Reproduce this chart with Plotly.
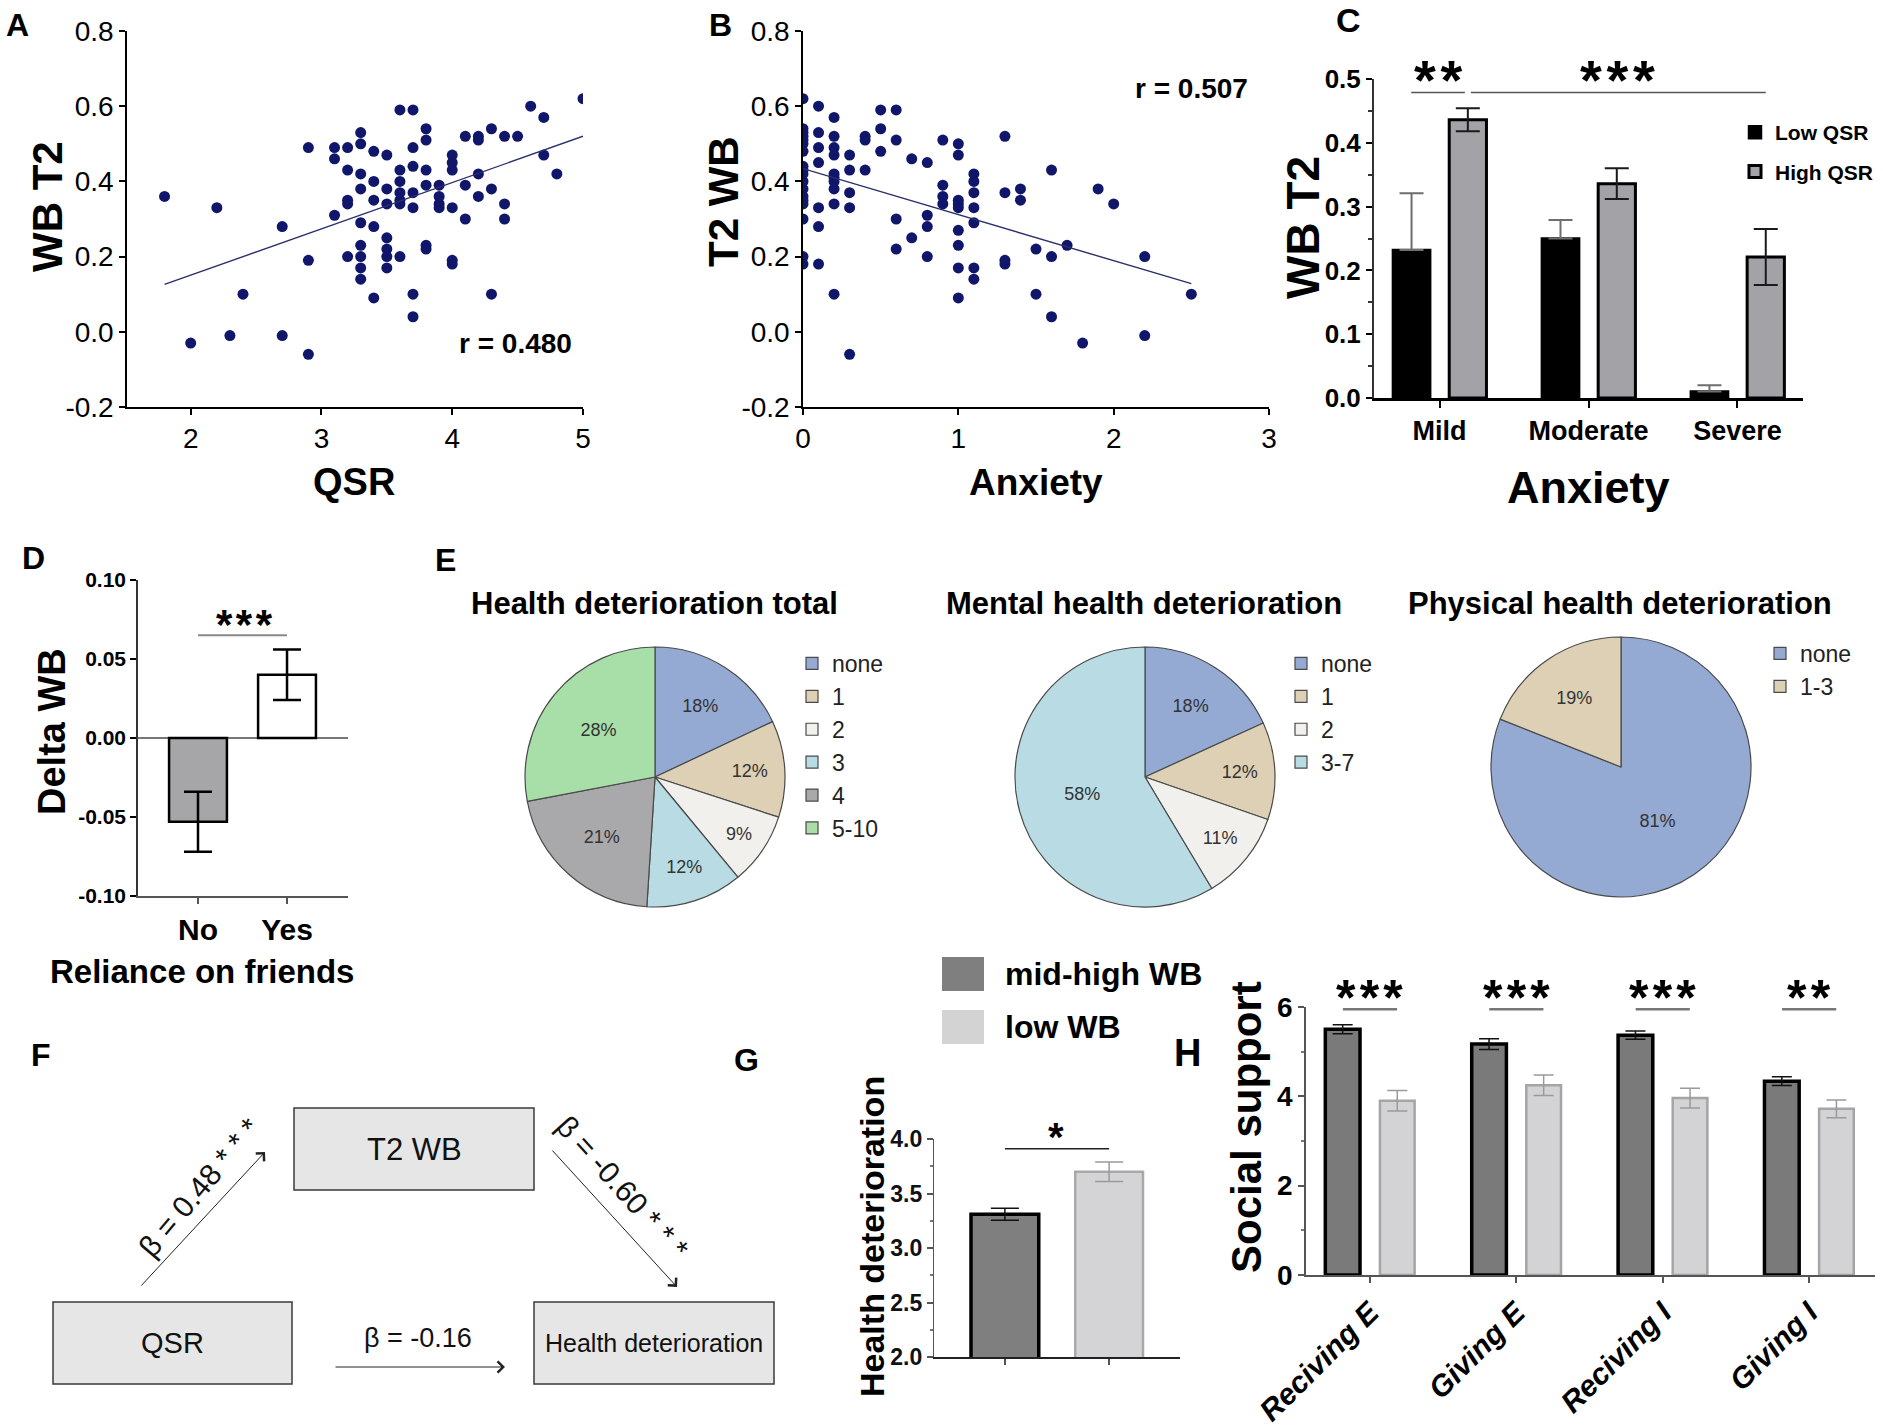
import plotly.graph_objects as go

W, H = 1883, 1427
FONT = "Liberation Sans, Arial, sans-serif"

# ---------------- data ----------------
# Panel A: QSR vs WB T2
A_x = [1.8, 2.2, 2.0, 2.3, 2.4, 2.7, 2.7, 2.9, 2.9, 2.9,
       3.1, 3.1, 3.1,
       3.2, 3.2, 3.2, 3.2, 3.2,
       3.3, 3.3, 3.3, 3.3, 3.3, 3.3, 3.3, 3.3, 3.3,
       3.4, 3.4, 3.4, 3.4, 3.4,
       3.5, 3.5, 3.5, 3.5, 3.5, 3.5, 3.5,
       3.6, 3.6, 3.6, 3.6, 3.6, 3.6, 3.6,
       3.7, 3.7, 3.7, 3.7, 3.7, 3.7, 3.7,
       3.8, 3.8, 3.8, 3.8, 3.8, 3.8,
       3.9, 3.9, 3.9, 3.9,
       4.0, 4.0, 4.0, 4.0, 4.0, 4.0,
       4.1, 4.1, 4.1,
       4.2, 4.2, 4.2, 4.2,
       4.3, 4.3, 4.3,
       4.4, 4.4, 4.4,
       4.5, 4.6, 4.7, 4.7, 4.8, 5.0]
A_y = [0.36, 0.33, -0.03, -0.01, 0.10, 0.28, -0.01, 0.49, 0.19, -0.06,
       0.49, 0.46, 0.31,
       0.49, 0.43, 0.35, 0.34, 0.20,
       0.53, 0.50, 0.42, 0.38, 0.29, 0.23, 0.20, 0.17, 0.14,
       0.48, 0.40, 0.35, 0.28, 0.09,
       0.47, 0.38, 0.34, 0.25, 0.22, 0.20, 0.17,
       0.59, 0.43, 0.40, 0.37, 0.35, 0.34, 0.20,
       0.59, 0.49, 0.44, 0.37, 0.33, 0.10, 0.04,
       0.54, 0.51, 0.43, 0.39, 0.23, 0.22,
       0.39, 0.36, 0.34, 0.33,
       0.47, 0.45, 0.43, 0.33, 0.19, 0.18,
       0.52, 0.39, 0.30,
       0.52, 0.51, 0.42, 0.36,
       0.54, 0.38, 0.10,
       0.52, 0.34, 0.30,
       0.52, 0.60, 0.57, 0.47, 0.42, 0.62]
A_fit_x = [1.8, 5.0]
A_fit_y = [0.126, 0.52]
A_r = "r = 0.480"

# Panel B: Anxiety vs T2 WB
B_x = [0.0] * 18 + [0.1] * 7 + [0.2] * 10 + [0.3] * 5 + [0.4] * 3 + [0.5] * 3 + [0.6] * 4 + [0.7] * 2 + \
      [0.8] * 4 + [0.9] * 4 + [1.0] * 9 + [1.1] * 7 + [1.3] * 4 + [1.4] * 2 + [1.5] * 2 + [1.6] * 3 + \
      [1.7, 1.8, 1.9, 2.0, 2.2, 2.2, 2.5]
B_y = [0.62, 0.54, 0.53, 0.52, 0.51, 0.50, 0.48, 0.44, 0.43, 0.42, 0.40, 0.38, 0.36, 0.35, 0.34, 0.30, 0.20, 0.18,
       0.60, 0.53, 0.49, 0.45, 0.33, 0.28, 0.18,
       0.57, 0.52, 0.49, 0.47, 0.42, 0.41, 0.40, 0.38, 0.34, 0.10,
       0.47, 0.43, 0.37, 0.33, -0.06,
       0.52, 0.51, 0.43,
       0.59, 0.54, 0.48,
       0.59, 0.51, 0.30, 0.22,
       0.46, 0.25,
       0.45, 0.31, 0.28, 0.20,
       0.51, 0.39, 0.36, 0.34,
       0.50, 0.47, 0.35, 0.34, 0.33, 0.27, 0.23, 0.17, 0.09,
       0.42, 0.40, 0.37, 0.33, 0.29, 0.17, 0.14,
       0.52, 0.37, 0.19, 0.18,
       0.38, 0.35,
       0.22, 0.10,
       0.43, 0.20, 0.04,
       0.23, -0.03, 0.38, 0.34, 0.20, -0.01, 0.10]
B_fit_x = [0.0, 2.5]
B_fit_y = [0.434, 0.128]
B_r = "r = 0.507"

AB_yticks = [-0.2, 0.0, 0.2, 0.4, 0.6, 0.8]
AB_yticktext = ["-0.2", "0.0", "0.2", "0.4", "0.6", "0.8"]

# Panel C
C_cats = ["Mild", "Moderate", "Severe"]
C_low = [0.232, 0.250, 0.010]
C_low_err = [0.089, 0.029, 0.010]
C_high = [0.436, 0.336, 0.221]
C_high_err = [0.018, 0.024, 0.044]

# Panel D
D_cats = ["No", "Yes"]
D_vals = [-0.053, 0.040]
D_err = [0.019, 0.016]
D_yticks = [-0.10, -0.05, 0.0, 0.05, 0.10]
D_yticktext = ["-0.10", "-0.05", "0.00", "0.05", "0.10"]

# Panel E (pies)
P1_labels = ["none", "1", "2", "3", "4", "5-10"]
P1_vals = [18, 12, 9, 12, 21, 28]
P2_labels = ["none", "1", "2", "3-7"]
P2_vals = [18, 12, 11, 58]
P3_labels = ["none", "1-3"]
P3_vals = [81, 19]
P_titles = ["Health deterioration total", "Mental health deterioration", "Physical health deterioration"]

# Panel G
G_groups = ["mid-high WB", "low WB"]
G_vals = [3.31, 3.70]
G_err = [0.055, 0.09]

# Panel H
H_cats = ["Reciving E", "Giving E", "Reciving I", "Giving I"]
H_mid = [5.50, 5.17, 5.37, 4.34]
H_mid_err = [0.10, 0.12, 0.09, 0.10]
H_low = [3.90, 4.25, 3.96, 3.72]
H_low_err = [0.23, 0.23, 0.22, 0.20]
H_stars = ["***", "***", "***", "**"]

# ---------------- geometry (pixels) ----------------
PAN = {
    "A": dict(xd=(127, 583), xr=(1.513, 5.0), yd=(407, 31), yr=(-0.2, 0.8)),
    "B": dict(xd=(803, 1269), xr=(0.0, 3.0), yd=(407, 31), yr=(-0.2, 0.8)),
    "C": dict(xd=(1374, 1803), xr=(-0.44, 2.44), yd=(398, 79), yr=(0.0, 0.5)),
    "D": dict(xd=(138, 348), xr=(-0.674, 1.685), yd=(896, 580), yr=(-0.1, 0.1)),
    "G": dict(xd=(934, 1180), xr=(-0.68, 1.68), yd=(1357, 1139), yr=(2.0, 4.0)),
    "H": dict(xd=(1306, 1875), xr=(-0.437, 3.45), yd=(1275, 1007), yr=(0.0, 6.0)),
}


def px(x):
    return x / W


def py(y):
    return 1 - y / H


def dom_x(p):
    return [px(PAN[p]["xd"][0]), px(PAN[p]["xd"][1])]


def dom_y(p):
    return [py(PAN[p]["yd"][0]), py(PAN[p]["yd"][1])]


def to_paper(p, xv, yv):
    d = PAN[p]
    fx = (xv - d["xr"][0]) / (d["xr"][1] - d["xr"][0])
    fy = (yv - d["yr"][0]) / (d["yr"][1] - d["yr"][0])
    xp = d["xd"][0] + fx * (d["xd"][1] - d["xd"][0])
    yp = d["yd"][0] + fy * (d["yd"][1] - d["yd"][0])
    return px(xp), py(yp)


fig = go.Figure()

# ---------------- A ----------------
fig.add_trace(go.Scatter(x=A_x, y=A_y, mode="markers", xaxis="x", yaxis="y",
                         marker=dict(color="#10176b", size=11), showlegend=False, hoverinfo="skip"))
fig.add_trace(go.Scatter(x=A_fit_x, y=A_fit_y, mode="lines", xaxis="x", yaxis="y",
                         line=dict(color="#2b2f6b", width=1.4), showlegend=False, hoverinfo="skip"))
# ---------------- B ----------------
fig.add_trace(go.Scatter(x=B_x, y=B_y, mode="markers", xaxis="x2", yaxis="y2",
                         marker=dict(color="#10176b", size=11), showlegend=False, hoverinfo="skip"))
fig.add_trace(go.Scatter(x=B_fit_x, y=B_fit_y, mode="lines", xaxis="x2", yaxis="y2",
                         line=dict(color="#2b2f6b", width=1.4), showlegend=False, hoverinfo="skip"))

# ---------------- C ----------------
fig.add_trace(go.Bar(x=[0, 1, 2], y=C_low, xaxis="x3", yaxis="y3", name="Low QSR",
                     width=0.25, offset=-0.313,
                     marker=dict(color="#000000", line=dict(color="#000000", width=2.5)),
                     error_y=dict(type="data", symmetric=False, array=C_low_err, arrayminus=[0, 0, 0],
                                  color="#6e6e6e", thickness=2, width=12),
                     legend="legend", legendgroup="c1", hoverinfo="skip"))
fig.add_trace(go.Bar(x=[0, 1, 2], y=C_high, xaxis="x3", yaxis="y3", name="High QSR",
                     width=0.25, offset=0.065,
                     marker=dict(color="#a3a3a7", line=dict(color="#000000", width=3)),
                     error_y=dict(type="data", array=C_high_err, color="#1a1a1a", thickness=2, width=12),
                     legend="legend", legendgroup="c2", hoverinfo="skip"))

# ---------------- D ----------------
fig.add_trace(go.Bar(x=[0, 1], y=D_vals, xaxis="x4", yaxis="y4", width=0.65,
                     marker=dict(color=["#a6a6a9", "#ffffff"], line=dict(color="#000000", width=2.5)),
                     error_y=dict(type="data", array=D_err, color="#000000", thickness=2.5, width=14),
                     showlegend=False, hoverinfo="skip"))

# ---------------- E pies ----------------
PIE_COL = {"none": "#95aad3", "1": "#ddd0b5", "2": "#f1f0ec", "3": "#b8dbe4", "3-7": "#b8dbe4",
           "4": "#a9a9ab", "5-10": "#a8dfa9", "1-3": "#ddd0b5"}
pies = [
    (P1_labels, P1_vals, (655, 777), "legend2", ""),
    (P2_labels, P2_vals, (1145, 777), "legend3", "\u200b"),
    (P3_labels, P3_vals, (1621, 767), "legend4", "\u200b\u200b"),
]
R = 130
for labels, vals, (cx, cy), lg, tag in pies:
    fig.add_trace(go.Pie(
        labels=[l + tag for l in labels], values=vals, sort=False, direction="clockwise", rotation=0,
        domain=dict(x=[px(cx - R), px(cx + R)], y=[py(cy + R), py(cy - R)]),
        marker=dict(colors=[PIE_COL[l] for l in labels], line=dict(color="#4a4a4a", width=1.2)),
        text=[f"{v}%" for v in vals], textinfo="text", textposition="inside",
        insidetextorientation="horizontal",
        textfont=dict(size=18, color="#333333", family=FONT),
        legend=lg, showlegend=True, hoverinfo="skip"))

# ---------------- G ----------------
fig.add_trace(go.Bar(x=[0], y=[G_vals[0]], xaxis="x5", yaxis="y5", width=0.65,
                     marker=dict(color="#7f7f7f", line=dict(color="#000000", width=3.5)),
                     error_y=dict(type="data", array=[G_err[0]], color="#111111", thickness=1.5, width=14),
                     showlegend=False, hoverinfo="skip"))
fig.add_trace(go.Bar(x=[1], y=[G_vals[1]], xaxis="x5", yaxis="y5", width=0.65,
                     marker=dict(color="#d4d4d6", line=dict(color="#a9a9a9", width=2.5)),
                     error_y=dict(type="data", array=[G_err[1]], color="#9a9a9a", thickness=1.5, width=14),
                     showlegend=False, hoverinfo="skip"))

# ---------------- H ----------------
fig.add_trace(go.Bar(x=[0, 1, 2, 3], y=H_mid, xaxis="x6", yaxis="y6", width=0.237, offset=-0.305,
                     marker=dict(color="#7a7a7a", line=dict(color="#000000", width=3.5)),
                     error_y=dict(type="data", array=H_mid_err, color="#111111", thickness=1.5, width=10),
                     showlegend=False, hoverinfo="skip"))
fig.add_trace(go.Bar(x=[0, 1, 2, 3], y=H_low, xaxis="x6", yaxis="y6", width=0.237, offset=0.068,
                     marker=dict(color="#d3d3d5", line=dict(color="#a5a5a5", width=2.5)),
                     error_y=dict(type="data", array=H_low_err, color="#9a9a9a", thickness=1.5, width=10),
                     showlegend=False, hoverinfo="skip"))

# ---------------- axes ----------------
def ax_common(**kw):
    base = dict(showgrid=False, zeroline=False, showline=True, linecolor="#000000", linewidth=1.5,
                ticks="outside", ticklen=6, tickwidth=1.5, tickcolor="#000000", fixedrange=True,
                automargin=False)
    base.update(kw)
    return base


tf_ab = dict(size=28, family=FONT, color="#000000")
layout_axes = dict(
    xaxis=ax_common(domain=dom_x("A"), range=list(PAN["A"]["xr"]), anchor="y",
                    tickvals=[2, 3, 4, 5], tickfont=tf_ab),
    yaxis=ax_common(domain=dom_y("A"), range=list(PAN["A"]["yr"]), anchor="x",
                    tickvals=AB_yticks, ticktext=AB_yticktext, tickfont=tf_ab),
    xaxis2=ax_common(domain=dom_x("B"), range=list(PAN["B"]["xr"]), anchor="y2",
                     tickvals=[0, 1, 2, 3], tickfont=tf_ab),
    yaxis2=ax_common(domain=dom_y("B"), range=list(PAN["B"]["yr"]), anchor="x2",
                     tickvals=AB_yticks, ticktext=AB_yticktext, tickfont=tf_ab),
    xaxis3=ax_common(domain=dom_x("C"), range=list(PAN["C"]["xr"]), anchor="y3",
                     tickvals=[0, 1, 2], ticktext=C_cats, linewidth=2.5, tickwidth=2, ticklen=7,
                     tickfont=dict(size=27, family=FONT, color="#000000", weight="bold")),
    yaxis3=ax_common(domain=dom_y("C"), range=list(PAN["C"]["yr"]), anchor="x3",
                     tickvals=[0, 0.1, 0.2, 0.3, 0.4, 0.5],
                     ticktext=["0.0", "0.1", "0.2", "0.3", "0.4", "0.5"], linewidth=2, linecolor="#333333",
                     minor=dict(tickvals=[0.05, 0.15, 0.25, 0.35, 0.45], ticks="outside", ticklen=4,
                                tickcolor="#333333", tickwidth=1.5),
                     tickfont=dict(size=26, family=FONT, color="#000000", weight="bold")),
    xaxis4=ax_common(domain=dom_x("D"), range=list(PAN["D"]["xr"]), anchor="y4",
                     tickvals=[0, 1], ticktext=D_cats, linecolor="#555555", linewidth=2, tickcolor="#555555",
                     tickfont=dict(size=30, family=FONT, color="#000000", weight="bold")),
    yaxis4=ax_common(domain=dom_y("D"), range=list(PAN["D"]["yr"]), anchor="x4",
                     tickvals=D_yticks, ticktext=D_yticktext, linecolor="#333333",
                     zeroline=True, zerolinecolor="#777777", zerolinewidth=2,
                     tickfont=dict(size=21, family=FONT, color="#000000", weight="bold")),
    xaxis5=ax_common(domain=dom_x("G"), range=list(PAN["G"]["xr"]), anchor="y5",
                     tickvals=[0, 1], ticktext=["", ""], linecolor="#222222", tickcolor="#555555"),
    yaxis5=ax_common(domain=dom_y("G"), range=list(PAN["G"]["yr"]), anchor="x5",
                     tickvals=[2.0, 2.5, 3.0, 3.5, 4.0], ticktext=["2.0", "2.5", "3.0", "3.5", "4.0"],
                     linecolor="#555555", linewidth=1.2, tickcolor="#555555",
                     minor=dict(tickvals=[2.25, 2.75, 3.25, 3.75], ticks="outside", ticklen=3,
                                tickcolor="#777777"),
                     tickfont=dict(size=23, family=FONT, color="#111111", weight="bold")),
    xaxis6=ax_common(domain=dom_x("H"), range=list(PAN["H"]["xr"]), anchor="y6",
                     tickvals=[0, 1, 2, 3], ticktext=H_cats, tickangle=-45,
                     linecolor="#555555", linewidth=2, tickcolor="#555555",
                     tickfont=dict(size=30, family=FONT, color="#000000", weight="bold", style="italic")),
    yaxis6=ax_common(domain=dom_y("H"), range=list(PAN["H"]["yr"]), anchor="x6",
                     tickvals=[0, 2, 4, 6], linecolor="#555555", linewidth=1.5, tickcolor="#555555",
                     minor=dict(tickvals=[1, 3, 5], ticks="outside", ticklen=3, tickcolor="#777777"),
                     tickfont=dict(size=28, family=FONT, color="#000000", weight="bold")),
)

# ---------------- text ----------------
ann = []


def T(text, x, y, size, bold=True, angle=0, color="#000000", family=FONT, xanchor="center",
      yanchor="middle", italic=False):
    ann.append(dict(text=text, x=px(x), y=py(y), xref="paper", yref="paper", showarrow=False,
                    textangle=angle, xanchor=xanchor, yanchor=yanchor,
                    font=dict(size=size, color=color, family=family,
                              weight="bold" if bold else "normal",
                              style="italic" if italic else "normal")))


# panel letters
for letter, (x, y), s in [("A", (17, 25), 32), ("B", (720, 25), 32), ("C", (1348, 20), 34),
                          ("D", (33, 558), 32), ("E", (445, 560), 32), ("F", (41, 1055), 32),
                          ("G", (746, 1060), 32), ("H", (1187, 1053), 38)]:
    T(letter, x, y, s)

# A
T("WB T2", 47, 207, 42, angle=-90)
T("QSR", 354, 482, 38)
T(A_r, 515, 343, 28)
# B
T("T2 WB", 724, 202, 42, angle=-90)
T("Anxiety", 1036, 482, 37)
T(B_r, 1191, 88, 28)
# C
T("WB T2", 1303, 228, 46, angle=-90)
T("Anxiety", 1588, 487, 45)
# D
T("Delta WB", 52, 732, 38, angle=-90)
T("Reliance on friends", 202, 972, 33)
# E titles
T(P_titles[0], 654, 603, 31)
T(P_titles[1], 1144, 603, 31)
T(P_titles[2], 1620, 603, 31)
# G / H
T("Health deterioration", 872, 1237, 34, angle=-90)
T("Social support", 1246, 1127, 42, angle=-90)
T(G_groups[0], 1003, 974, 32, xanchor="left")
T(G_groups[1], 1003, 1027, 32, xanchor="left")

# significance stars
STAR_SHIFT = 0.06


def star(text, x, y, size):
    T(text, x, y + STAR_SHIFT * size, size)


star("*\u200a*", 1438, 76, 56)
star("*\u200a*\u200a*", 1617, 76, 56)
star("*\u200a*\u200a*", 244, 622, 42)
star("*", 1056, 1135, 40)

shapes = []


def sig_line(p, x0, x1, yv, color, width):
    a = to_paper(p, x0, yv)
    b = to_paper(p, x1, yv)
    shapes.append(dict(type="line", xref="paper", yref="paper", x0=a[0], y0=a[1], x1=b[0], y1=b[1],
                       line=dict(color=color, width=width)))


sig_line("C", -0.19, 0.17, 0.479, "#555555", 1.5)
sig_line("C", 0.21, 2.19, 0.479, "#555555", 1.5)
sig_line("D", 0.0, 1.0, 0.065, "#888888", 2)
sig_line("G", 0.0, 1.0, 3.91, "#222222", 1.5)
for i, s in enumerate(H_stars):
    sig_line("H", i - 0.185, i + 0.185, 5.95, "#777777", 2.5)
    sx, sy = to_paper("H", i, 6.0)
    star("\u200a".join(list(s)), sx * W, 995, 50)

# G legend swatches
shapes.append(dict(type="rect", xref="paper", yref="paper", x0=px(942), x1=px(984), y0=py(991), y1=py(957),
                   fillcolor="#7f7f7f", line=dict(width=0)))
shapes.append(dict(type="rect", xref="paper", yref="paper", x0=px(942), x1=px(984), y0=py(1044), y1=py(1010),
                   fillcolor="#d3d3d3", line=dict(width=0)))

# ---------------- F: path diagram ----------------
BOX = "#e6e6e6"
for (x0, y0, x1, y1) in [(294, 1108, 534, 1190), (53, 1302, 292, 1384), (534, 1302, 774, 1384)]:
    shapes.append(dict(type="rect", xref="paper", yref="paper", x0=px(x0), x1=px(x1), y0=py(y1), y1=py(y0),
                       fillcolor=BOX, line=dict(color="#3a3a3a", width=1.5)))
T("T2 WB", 414, 1149, 31, bold=False, color="#111111")
T("QSR", 172, 1343, 29, bold=False, color="#111111")
T("Health deterioration", 654, 1343, 25, bold=False, color="#111111")


def arrow(x0, y0, x1, y1):
    ann.append(dict(text="", x=px(x1), y=py(y1), xref="paper", yref="paper", showarrow=True,
                    ax=x0 - x1, ay=y0 - y1, axref="pixel", ayref="pixel",
                    arrowhead=4, arrowsize=2.2, arrowwidth=1, arrowcolor="#222222", standoff=0,
                    startstandoff=0))


arrow(140, 1287, 265, 1152)
arrow(551, 1149, 677, 1287)
arrow(334, 1367, 505, 1367)
T("\u03b2 = 0.48 * * *", 199, 1187, 30, bold=False, angle=-50, color="#111111")
T("\u03b2 = -0.60 * * *", 623, 1187, 30, bold=False, angle=48, color="#111111")
T("\u03b2 = -0.16", 418, 1338, 27, bold=False, color="#111111")

# ---------------- legends ----------------
leg_common = dict(bgcolor="rgba(0,0,0,0)", borderwidth=0, xanchor="left", yanchor="top",
                  itemwidth=30, itemclick=False, itemdoubleclick=False)
legends = dict(
    legend=dict(x=px(1735), y=py(112), traceorder="grouped", tracegroupgap=9,
                font=dict(size=21, family=FONT, color="#000000", weight="bold"), **leg_common),
    legend2=dict(x=px(792), y=py(642), traceorder="normal",
                 font=dict(size=23, family=FONT, color="#222222"), **leg_common),
    legend3=dict(x=px(1281), y=py(642), traceorder="normal",
                 font=dict(size=23, family=FONT, color="#222222"), **leg_common),
    legend4=dict(x=px(1760), y=py(632), traceorder="normal",
                 font=dict(size=23, family=FONT, color="#222222"), **leg_common),
)

fig.update_layout(
    width=W, height=H, autosize=False,
    margin=dict(l=0, r=0, t=0, b=0, pad=0, autoexpand=False),
    paper_bgcolor="white", plot_bgcolor="white",
    barmode="overlay",
    font=dict(family=FONT, color="#000000"),
    annotations=ann, shapes=shapes,
    **layout_axes, **legends,
)

fig.write_html("out.html", config={"displayModeBar": False},
               post_script="document.body.style.margin='0';document.body.style.overflow='hidden';")
